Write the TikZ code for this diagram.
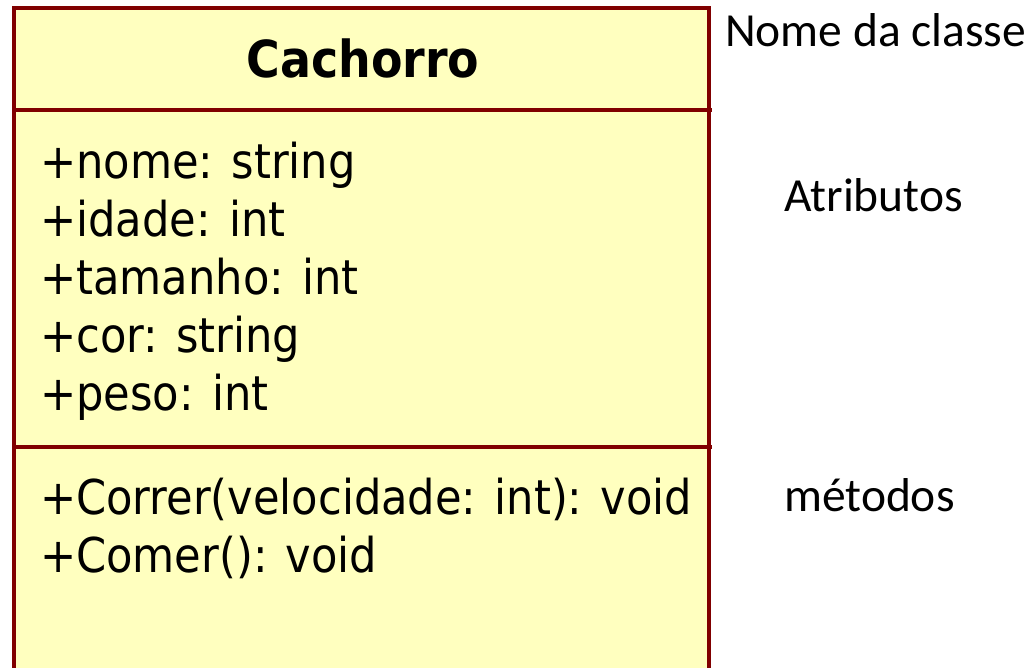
\documentclass[tikz,border=0pt]{standalone}
\usepackage{fontspec}
\setmainfont{DejaVu Sans Condensed}
\newfontfamily\lblfont{Carlito}
\definecolor{umlfill}{HTML}{FFFFBF}
\definecolor{umlline}{HTML}{800000}
\begin{document}
\begin{tikzpicture}[x=1pt,y=-1pt,
  member/.style={anchor=base west,inner sep=0pt,font=\fontsize{48}{58}\selectfont},
  lbl/.style={anchor=base west,inner sep=0pt,font=\lblfont\fontsize{47.5}{56}\selectfont}]
\useasboundingbox (0,0) rectangle (1035,667);
\path[fill=umlfill] (14,8) rectangle (709,680);
\draw[umlline,line width=4pt] (14,680) -- (14,8) -- (709,8) -- (709,680);
\draw[umlline,line width=4pt] (14,110) -- (712,110);
\draw[umlline,line width=4pt] (14,447) -- (712,447);
\node[anchor=base,inner sep=0pt,font=\bfseries\fontsize{51}{60}\selectfont] (name) at (363,77) {Cachorro};
\node[member] (a1) at (40,178) {+nome: string};
\node[member] (a2) at (40,236) {+idade: int};
\node[member] (a3) at (40,294) {+tamanho: int};
\node[member] (a4) at (40,352) {+cor: string};
\node[member] (a5) at (40,410) {+peso: int};
\node[member] (m1) at (40,514) {+Correr(velocidade: int): void};
\node[member] (m2) at (40,572) {+Comer(): void};
\node[lbl] (l1) at (725,46) {Nome da classe};
\node[lbl] (l2) at (784,211) {Atributos};
\node[lbl] (l3) at (784,511) {métodos};
\end{tikzpicture}
\end{document}
